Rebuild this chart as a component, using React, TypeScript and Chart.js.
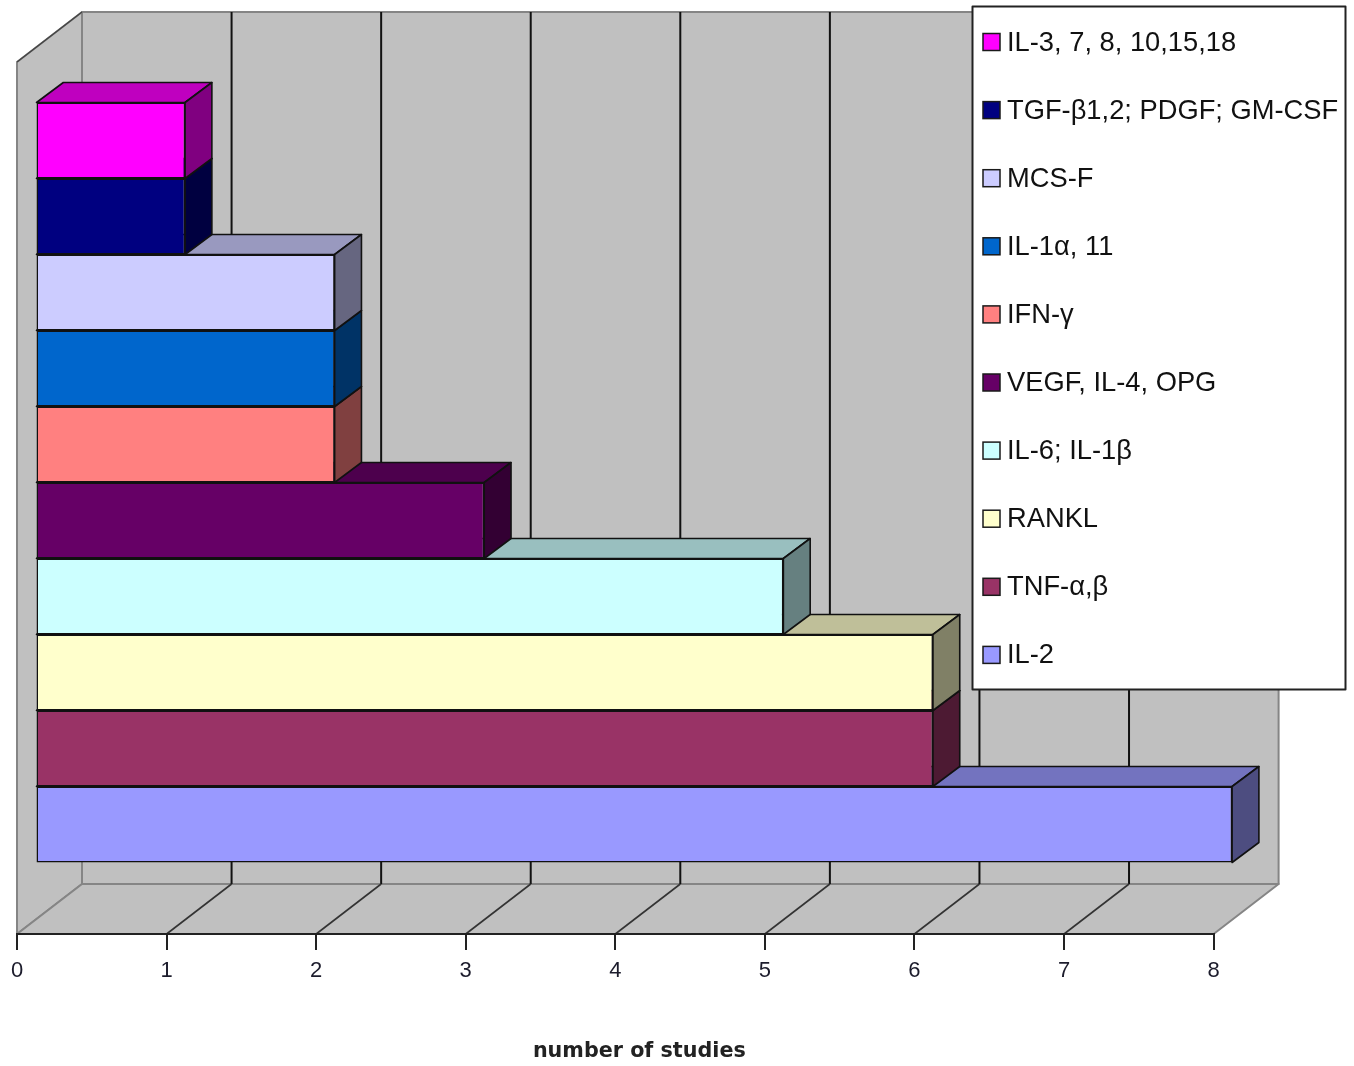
import React, { useEffect, useRef } from "react";
import { Chart, registerables } from "chart.js";

Chart.register(...registerables);

const groupLabel = ["Cytokines"];
const seriesNames = [
  "IL-3, 7, 8, 10,15,18",
  "TGF-β1,2; PDGF; GM-CSF",
  "MCS-F",
  "IL-1α, 11",
  "IFN-γ",
  "VEGF, IL-4, OPG",
  "IL-6; IL-1β",
  "RANKL",
  "TNF-α,β",
  "IL-2",
];
const studyCounts = [1, 1, 2, 2, 2, 3, 5, 6, 6, 8];
const seriesColors = [
  "#FF00FF",
  "#000080",
  "#CCCCFF",
  "#0066CC",
  "#FF8080",
  "#660066",
  "#CCFFFF",
  "#FFFFCC",
  "#993366",
  "#9999FF",
];
const axisTitle = "number of studies";

const WALL = "#C0C0C0";
const EDGE = "#858585";
const INK = "#111111";
const DEPTH_X = 65;
const DEPTH_Y = 50;
const BAR_DX = 18.5;
const BAR_DY = -15.5;
const BAR_DEPTH_X = 26.8;
const BAR_DEPTH_Y = 20;
const TITLE_SHIFT = 24;

function shade(hex: string, k: number) {
  const n = parseInt(hex.slice(1), 16);
  const c = [(n >> 16) & 255, (n >> 8) & 255, n & 255].map((v) => Math.round(v * k));
  return `rgb(${c[0]},${c[1]},${c[2]})`;
}

function poly(ctx: CanvasRenderingContext2D, pts: number[][], fill: string | null, stroke: string | null, w = 1) {
  ctx.beginPath();
  pts.forEach((p, i) => (i ? ctx.lineTo(p[0], p[1]) : ctx.moveTo(p[0], p[1])));
  ctx.closePath();
  if (fill) {
    ctx.fillStyle = fill;
    ctx.fill();
  }
  if (stroke) {
    ctx.strokeStyle = stroke;
    ctx.lineWidth = w;
    ctx.lineJoin = "round";
    ctx.stroke();
  }
}

function line(ctx: CanvasRenderingContext2D, x0: number, y0: number, x1: number, y1: number, c: string, w: number) {
  ctx.beginPath();
  ctx.moveTo(x0, y0);
  ctx.lineTo(x1, y1);
  ctx.strokeStyle = c;
  ctx.lineWidth = w;
  ctx.stroke();
}

const legendRect = { left: 972.5, top: 6.5, right: 1345.5, bottom: 689.5 };
const legendFont = 27.3;
const legendPad = 40.8;
const legendTextX = 1007;
const legendFirstY = 42;
const legendTextDrop = 1;

const scene3d = {
  id: "scene3d",
  afterLayout(chart: any) {
    const lg = chart.legend;
    lg.left = legendTextX - legendFont / 2 - legendPad;
    lg.right = legendRect.right;
    lg.top = legendFirstY + legendTextDrop - legendFont / 2 - legendPad;
    lg.bottom = 800;
    lg.width = lg.right - lg.left;
    lg.height = lg.bottom - lg.top;
    const sx = chart.scales.x;
    if (!sx.__shifted) {
      sx.__shifted = true;
      const drawTitle = sx.drawTitle;
      sx.drawTitle = function (this: any) {
        const l = this.left;
        const r = this.right;
        this.left = l + TITLE_SHIFT;
        this.right = r + TITLE_SHIFT;
        drawTitle.call(this);
        this.left = l;
        this.right = r;
      };
    }
  },
  beforeDraw(chart: any) {
    const { ctx, chartArea: a, scales } = chart;
    const sx = scales.x;
    const L = sx.getPixelForValue(0);
    const R = sx.getPixelForValue(8);
    const T = a.top;
    const B = a.bottom;
    ctx.save();
    poly(ctx, [[L + DEPTH_X, T - DEPTH_Y], [R + DEPTH_X, T - DEPTH_Y], [R + DEPTH_X, B - DEPTH_Y], [L + DEPTH_X, B - DEPTH_Y]], WALL, EDGE, 2);
    poly(ctx, [[L, T], [L + DEPTH_X, T - DEPTH_Y], [L + DEPTH_X, B - DEPTH_Y], [L, B]], WALL, EDGE, 2);
    poly(ctx, [[L, B], [L + DEPTH_X, B - DEPTH_Y], [R + DEPTH_X, B - DEPTH_Y], [R, B]], WALL, EDGE, 2);
    line(ctx, L, T, L + DEPTH_X, T - DEPTH_Y, "#444444", 1.5);
    sx.ticks.forEach((t: any) => {
      if (t.value <= 0 || t.value >= 8) return;
      const x = sx.getPixelForValue(t.value);
      line(ctx, x + DEPTH_X, T - DEPTH_Y, x + DEPTH_X, B - DEPTH_Y, INK, 2);
      line(ctx, x, B, x + DEPTH_X, B - DEPTH_Y, "#333333", 1.6);
    });
    ctx.fillStyle = "#FFFFFF";
    ctx.strokeStyle = "#222222";
    ctx.lineWidth = 2;
    const r = legendRect;
    ctx.fillRect(r.left, r.top, r.right - r.left, r.bottom - r.top);
    ctx.strokeRect(r.left, r.top, r.right - r.left, r.bottom - r.top);
    ctx.restore();
  },
  beforeDatasetsDraw(chart: any) {
    const { ctx } = chart;
    ctx.save();
    ctx.translate(BAR_DX, BAR_DY);
    for (let i = chart.data.datasets.length - 1; i >= 0; i--) {
      const el = chart.getDatasetMeta(i).data[0];
      const color = chart.data.datasets[i].backgroundColor;
      const top = el.y - el.height / 2;
      const bot = el.y + el.height / 2;
      const x0 = el.base;
      const x1 = el.x;
      poly(ctx, [[x0, top], [x0 + BAR_DEPTH_X, top - BAR_DEPTH_Y], [x1 + BAR_DEPTH_X, top - BAR_DEPTH_Y], [x1, top]], shade(color, 0.75), INK, 1.6);
      poly(ctx, [[x1, top], [x1 + BAR_DEPTH_X, top - BAR_DEPTH_Y], [x1 + BAR_DEPTH_X, bot - BAR_DEPTH_Y], [x1, bot]], shade(color, 0.5), INK, 1.6);
    }
  },
  afterDatasetsDraw(chart: any) {
    chart.ctx.restore();
  },
  afterDraw(chart: any) {
    const { ctx } = chart;
    const pitch = legendFont + legendPad;
    ctx.save();
    chart.data.datasets.forEach((d: any, i: number) => {
      const cy = legendFirstY + i * pitch;
      ctx.fillStyle = d.backgroundColor;
      ctx.fillRect(983, cy - 8.5, 17, 17);
      ctx.strokeStyle = "#1a1a1a";
      ctx.lineWidth = 1.5;
      ctx.strokeRect(983, cy - 8.5, 17, 17);
    });
    ctx.restore();
  },
};

export default function App() {
  const ref = useRef<HTMLCanvasElement>(null);
  useEffect(() => {
    const chart = new Chart(ref.current as HTMLCanvasElement, {
      type: "bar",
      data: {
        labels: groupLabel,
        datasets: seriesNames.map((name, i) => ({
          label: name,
          data: [studyCounts[i]],
          backgroundColor: seriesColors[i],
          borderColor: INK,
          borderWidth: 1.5,
          borderSkipped: false,
          categoryPercentage: 760 / 872,
          barPercentage: 1,
          clip: false,
        })),
      },
      plugins: [scene3d],
      options: {
        indexAxis: "y",
        animation: false,
        responsive: false,
        devicePixelRatio: 1,
        events: [],
        layout: { padding: { left: 17, right: 140.4, top: 62, bottom: 0 } },
        plugins: {
          tooltip: { enabled: false },
          title: { display: false },
          legend: {
            display: true,
            position: "chartArea",
            align: "start",
            labels: {
              boxWidth: 0,
              padding: legendPad,
              color: "#111111",
              font: { family: "'Liberation Sans', Arial, sans-serif", size: legendFont },
            },
          },
        },
        scales: {
          x: {
            type: "linear",
            min: 0,
            max: 8,
            afterFit(scale: any) {
              scale.height = 132;
            },
            border: { display: true, color: "#222222", width: 2 },
            grid: { display: true, drawOnChartArea: false, drawTicks: true, tickLength: 16, color: "#222222", lineWidth: 2 },
            ticks: {
              stepSize: 1,
              padding: 8,
              maxRotation: 0,
              color: "#1c1c2c",
              font: { family: "'Liberation Sans', Arial, sans-serif", size: 22 },
            },
            title: {
              display: true,
              text: axisTitle,
              color: "#222222",
              padding: { top: 0, bottom: 2 },
              font: { family: "'DejaVu Sans', Verdana, sans-serif", size: 20.7, weight: "bold" },
            },
          },
          y: { display: false },
        },
      },
    } as any);
    return () => chart.destroy();
  }, []);
  return (
    <canvas
      ref={ref}
      width={1354}
      height={1066}
      style={{ position: "fixed", left: 0, top: 0, display: "block", width: 1354, height: 1066 }}
    />
  );
}
